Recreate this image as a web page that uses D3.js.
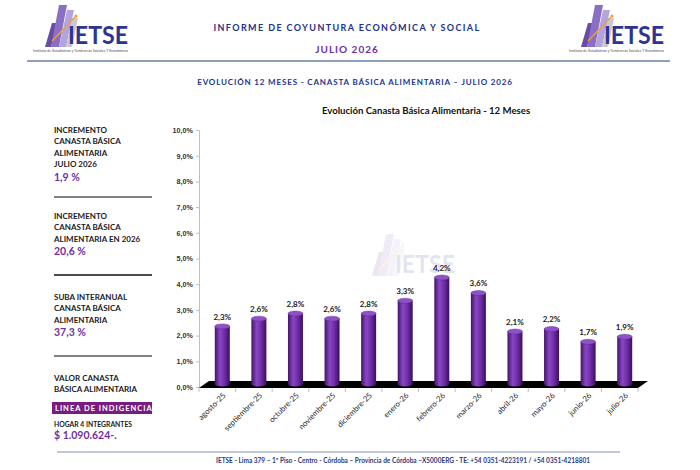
<!DOCTYPE html>
<html>
<head>
<meta charset="utf-8" />
<title>Evolución Canasta Básica Alimentaria</title>
<style>
body { margin: 0; background: #fff; }
svg { display: block; font-family: Lato, "Open Sans", sans-serif; }
.axis text { font-size: 7.2px; font-weight: bold; fill: #333; }
.axis path, .axis line { stroke: #bfbfbf; }
</style>
</head>
<body>
<div id="graph"></div>

<script src="https://cdnjs.cloudflare.com/ajax/libs/d3/7.8.5/d3.min.js"></script>
<script>
!(function(){
    "use strict"

    // datos
    var months = ["agosto-25", "septiembre-25", "octubre-25", "noviembre-25", "diciembre-25", "enero-26",
                  "febrero-26", "marzo-26", "abril-26", "mayo-26", "junio-26", "julio-26"]
    var values = [2.3, 2.6, 2.8, 2.6, 2.8, 3.3, 4.2, 3.6, 2.1, 2.2, 1.7, 1.9]
    var yTicks = [0, 1, 2, 3, 4, 5, 6, 7, 8, 9, 10]

    var panelBlocks = [
        { lines: ["INCREMENTO", "CANASTA BÁSICA", "ALIMENTARIA", "JULIO 2026"], value: "1,9 %" },
        { lines: ["INCREMENTO", "CANASTA BÁSICA", "ALIMENTARIA EN 2026"], value: "20,6 %" },
        { lines: ["SUBA INTERANUAL", "CANASTA BÁSICA", "ALIMENTARIA"], value: "37,3 %" }
    ]

    var width = 700, height = 470
    var purple = "#7030a0", navy = "#22338a"

    var svg = d3.select("#graph").append("svg")
        .attr("width", width).attr("height", height)

    var defs = svg.append("defs")
    var grad = defs.append("linearGradient").attr("id", "cyl")
        .attr("x1", "0%").attr("x2", "100%").attr("y1", "0%").attr("y2", "0%")
    grad.append("stop").attr("offset", "0%").attr("stop-color", "#43146a")
    grad.append("stop").attr("offset", "35%").attr("stop-color", "#8a46c4")
    grad.append("stop").attr("offset", "65%").attr("stop-color", "#6e2ea6")
    grad.append("stop").attr("offset", "100%").attr("stop-color", "#3a0f5c")

    // ---------- logo ----------
    function drawLogo(g, withCaption) {
        g.append("polygon").attr("points", "14,46 20,46 27,22 21,22").attr("fill", "#6a4ba2")
        g.append("polygon").attr("points", "20,46 28,46 36,4 28,4").attr("fill", "#8a70c4")
        g.append("polygon").attr("points", "28,46 35,46 43,9 36,9").attr("fill", "#b3a4dc")
        g.append("polygon").attr("points", "35,46 41,46 47,17 41,17").attr("fill", "#c9c9cf")
        g.append("line").attr("x1", 21).attr("y1", 40).attr("x2", 44).attr("y2", 16)
            .attr("stroke", "#f0a030").attr("stroke-width", 1.2)
        g.append("circle").attr("cx", 45).attr("cy", 15).attr("r", 1.6).attr("fill", "#f0a030")
        g.append("text").attr("x", 37).attr("y", 43)
            .attr("font-size", 25).attr("font-weight", "bold").attr("fill", "#2c3590")
            .attr("textLength", 60).attr("lengthAdjust", "spacingAndGlyphs")
            .text("IETSE")
        if (withCaption) {
            g.append("text").attr("x", 2).attr("y", 51).attr("font-size", 3.4).attr("fill", "#444")
                .attr("textLength", 95)
                .text("Instituto de Estadísticos y Tendencias Sociales Y Económicos")
        }
    }
    drawLogo(svg.append("g").attr("transform", "translate(31,1)"), true)
    drawLogo(svg.append("g").attr("transform", "translate(567,1)"), true)

    // ---------- encabezado ----------
    svg.append("text").attr("x", 347).attr("y", 31).attr("text-anchor", "middle")
        .attr("font-size", 9).attr("font-weight", "bold").attr("letter-spacing", 1.4)
        .attr("fill", navy).text("INFORME DE COYUNTURA ECONÓMICA Y SOCIAL")
    svg.append("text").attr("x", 347).attr("y", 53).attr("text-anchor", "middle")
        .attr("font-size", 10).attr("font-weight", "bold").attr("letter-spacing", 1)
        .attr("fill", purple).text("JULIO 2026")
    svg.append("line").attr("x1", 27).attr("x2", 670).attr("y1", 61).attr("y2", 61)
        .attr("stroke", "#8ea0c0").attr("stroke-width", 2)
    svg.append("text").attr("x", 355).attr("y", 85).attr("text-anchor", "middle")
        .attr("font-size", 8).attr("font-weight", "bold").attr("letter-spacing", 0.85)
        .attr("fill", navy).text("EVOLUCIÓN 12 MESES - CANASTA BÁSICA ALIMENTARIA – JULIO 2026")

    // ---------- panel izquierdo ----------
    var panel = svg.append("g").attr("transform", "translate(54,0)")
    var blockTops = [133, 219, 300]
    var sepY = [197, 275, 356]
    var sepColor = ["#808080", "#111", "#808080"]
    panelBlocks.forEach(function(b, i) {
        b.lines.forEach(function(l, j) {
            panel.append("text").attr("x", 0).attr("y", blockTops[i] + j * 11.3)
                .attr("font-size", 8).attr("font-weight", "bold").attr("fill", "#1a1a1a").text(l)
        })
        panel.append("text").attr("x", 0).attr("y", blockTops[i] + b.lines.length * 11.3 + 2.5)
            .attr("font-size", 10.5).attr("font-weight", "bold").attr("fill", purple).text(b.value)
        panel.append("line").attr("x1", 0).attr("x2", 98).attr("y1", sepY[i]).attr("y2", sepY[i])
            .attr("stroke", sepColor[i]).attr("stroke-width", i === 1 ? 1.3 : 2)
    })
    panel.append("text").attr("x", 0).attr("y", 381).attr("font-size", 8).attr("font-weight", "bold")
        .attr("fill", "#1a1a1a").text("VALOR CANASTA")
    panel.append("text").attr("x", 0).attr("y", 392).attr("font-size", 8).attr("font-weight", "bold")
        .attr("fill", "#1a1a1a").text("BÁSICA ALIMENTARIA")
    panel.append("rect").attr("x", -2).attr("y", 402).attr("width", 100).attr("height", 12)
        .attr("fill", "#771d80")
    panel.append("text").attr("x", 1).attr("y", 411).attr("font-size", 7.5).attr("font-weight", "bold")
        .attr("letter-spacing", 1).attr("fill", "#fff").text("LINEA DE INDIGENCIA")
    panel.append("text").attr("x", 0).attr("y", 426.5).attr("font-size", 6.8).attr("font-weight", "bold")
        .attr("fill", "#1a1a1a").text("HOGAR 4 INTEGRANTES")
    panel.append("text").attr("x", 0).attr("y", 439).attr("font-size", 10.5).attr("font-weight", "bold")
        .attr("fill", purple).text("$ 1.090.624-.")

    // ---------- pie ----------
    svg.append("line").attr("x1", 57).attr("x2", 620).attr("y1", 452).attr("y2", 452)
        .attr("stroke", "#aab4cc").attr("stroke-width", 1.5)
    svg.append("text").attr("x", 403).attr("y", 463).attr("text-anchor", "middle")
        .attr("font-size", 6.5).attr("font-weight", "bold").attr("fill", "#2b3a80")
        .text("IETSE - Lima 379 – 1º Piso - Centro - Córdoba – Provincia de Córdoba –X5000ERG - TE: +54 0351-4223191 / +54 0351-4218801")

    // ---------- gráfico ----------
    var x0 = 199, x1 = 638, yTop = 130, yBase = 387
    var depthX = 10, depthY = 7

    var xScale = d3.scaleBand().domain(months).range([x0, x1])
    var yScale = d3.scaleLinear().domain([0, 10]).range([yBase, yTop])

    svg.append("text").attr("x", 426).attr("y", 114).attr("text-anchor", "middle")
        .attr("font-size", 9.6).attr("font-weight", "bold").attr("fill", "#111")
        .text("Evolución Canasta Básica Alimentaria - 12 Meses")

    // marca de agua
    drawLogo(svg.append("g").attr("opacity", 0.13).attr("transform", "translate(358,230)"), false)

    var yAxis = d3.axisLeft(yScale)
        .tickValues(yTicks)
        .tickSize(3)
        .tickFormat(function(d){ return d.toFixed(1).replace(".", ",") + "%" })
    svg.append("g").attr("class", "axis y")
        .attr("transform", "translate(" + x0 + ",0)")
        .call(yAxis)
        .call(function(g){ g.selectAll("text").attr("x", -6) })

    // piso 3D
    svg.append("polygon")
        .attr("points", [[x0, yBase + 1], [x0 + depthX, yBase + 1 - depthY],
                         [x1 + depthX, yBase + 1 - depthY], [x1, yBase + 1]].join(" "))
        .attr("fill", "#000")

    // marcas del eje x en los límites de categoría
    var bounds = months.map(function(m){ return xScale(m) }).concat([x1])
    svg.append("g").selectAll("line").data(bounds).enter().append("line")
        .attr("x1", function(d){ return d }).attr("x2", function(d){ return d })
        .attr("y1", yBase + 1).attr("y2", yBase + 5)
        .attr("stroke", "#bfbfbf")

    var barW = 15, capRy = 2.5, lift = 4
    var chartLayer = svg.append("g")
    var bar = chartLayer.selectAll(".bar").data(values).enter().append("g").classed("bar", true)
        .attr("transform", function(d, i){ return "translate(" + (xScale(months[i]) + xScale.bandwidth() / 2 + 5) + ",0)" })

    bar.append("rect")
        .attr("x", -barW / 2).attr("width", barW)
        .attr("y", function(d){ return yScale(d) - lift + capRy })
        .attr("height", function(d){ return (yBase - 3) - (yScale(d) - lift + capRy) })
        .attr("fill", "url(#cyl)")
    bar.append("ellipse")
        .attr("cx", 0).attr("cy", yBase - 3).attr("rx", barW / 2).attr("ry", capRy)
        .attr("fill", "url(#cyl)")
    bar.append("ellipse")
        .attr("cx", 0).attr("cy", function(d){ return yScale(d) - lift + capRy })
        .attr("rx", barW / 2).attr("ry", capRy)
        .attr("fill", "#8e52c6").attr("stroke", "#5a2090").attr("stroke-width", 0.4)

    bar.append("text")
        .attr("text-anchor", "middle")
        .attr("y", function(d){ return yScale(d) - lift - 4 })
        .attr("font-size", 8).attr("font-weight", "bold").attr("fill", "#1a1a1a")
        .text(function(d){ return d.toFixed(1).replace(".", ",") + "%" })

    // etiquetas del eje x
    svg.append("g").selectAll("text").data(months).enter().append("text")
        .attr("transform", function(d){ return "translate(" + (xScale(d) + xScale.bandwidth() / 2 + 7) + "," + (yBase + 7) + ") rotate(-45)" })
        .attr("text-anchor", "end")
        .attr("dy", "0.35em")
        .attr("font-size", 7.8).attr("fill", "#1f1f1f")
        .text(function(d){ return d })

}());
</script>
</body>
</html>
